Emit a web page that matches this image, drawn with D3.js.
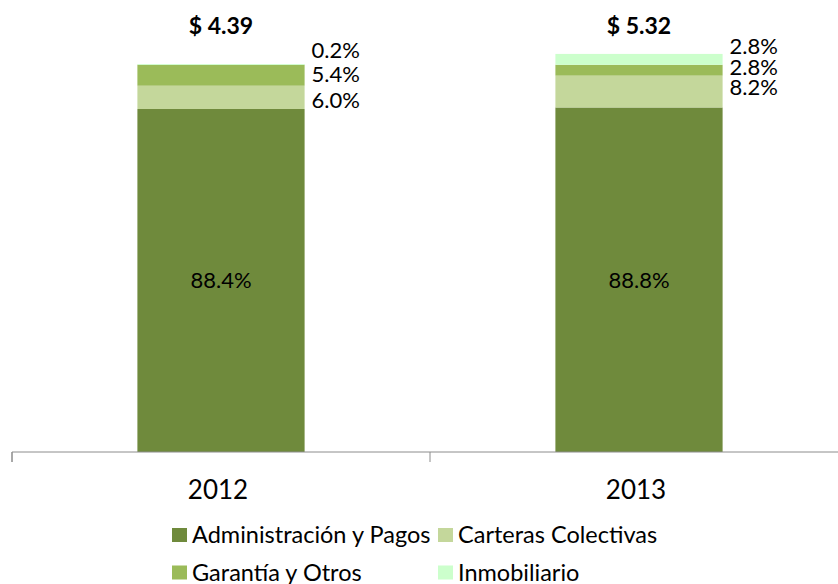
<!DOCTYPE html>
<html>
<head>
<meta charset="utf-8">
<script src="https://cdn.jsdelivr.net/npm/d3@7/dist/d3.min.js"></script>
<style>
  html, body { margin: 0; padding: 0; background: #ffffff; }
  svg { display: block; font-family: Lato, "Open Sans", sans-serif; }
</style>
</head>
<body>
<svg id="chart" width="838" height="584"></svg>
<script>
// ---- data ----
const years = ["2012", "2013"];
const totals = ["$ 4.39", "$ 5.32"];
const seriesNames = ["Administración y Pagos", "Carteras Colectivas", "Garantía y Otros", "Inmobiliario"];
const administracion = [88.4, 88.8];
const carteras = [6.0, 8.2];
const garantia = [5.4, 2.8];
const inmobiliario = [0.2, 2.8];
const colors = ["#6f8a3c", "#c4d79b", "#9bbb59", "#ccffcc"];

// ---- layout ----
const svg = d3.select("#chart");
const baseY = 452;
const x = d3.scaleBand().domain(years).range([12, 848]).paddingInner(0).paddingOuter(0);
const y = d3.scaleLinear().domain([0, 100]).range([baseY, 64]);
const barW = x.bandwidth() * 0.4;

const rows = years.map((yr, i) => ({
  year: yr, total: totals[i],
  [seriesNames[0]]: administracion[i],
  [seriesNames[1]]: carteras[i],
  [seriesNames[2]]: garantia[i],
  [seriesNames[3]]: inmobiliario[i]
}));
const stack = d3.stack().keys(seriesNames)(rows);

// label vertical nudges (px) for outside labels, per series index then year
const labelNudge = { 1: [3, -4], 2: [-1, -3], 3: [-14, -13] };

// bars
stack.forEach((layer, si) => {
  svg.append("g").selectAll("rect").data(layer).join("rect")
    .attr("x", d => x(d.data.year) + (x.bandwidth() - barW) / 2)
    .attr("width", barW)
    .attr("y", d => y(d[1]))
    .attr("height", d => y(d[0]) - y(d[1]))
    .attr("fill", colors[si]);
});

// axis
const axis = d3.axisBottom(x).tickSize(10).tickFormat("");
const ax = svg.append("g").attr("transform", `translate(0,${baseY})`).call(axis);
ax.select(".domain").attr("stroke", "#8c8c8c").attr("d", `M12,10V0H848V10`);
ax.selectAll(".tick").remove();
// tick marks at band boundaries
const bounds = years.map(yv => x(yv)).concat([x(years[years.length - 1]) + x.step()]);
ax.selectAll("line.bnd").data(bounds).join("line").attr("class", "bnd")
  .attr("x1", d => d).attr("x2", d => d).attr("y1", 0).attr("y2", 10)
  .attr("stroke", "#8c8c8c");

// category labels
svg.append("g").selectAll("text").data(years).join("text")
  .attr("x", d => x(d) + x.bandwidth() / 2 - 3)
  .attr("y", 499)
  .attr("text-anchor", "middle")
  .attr("font-size", 26)
  .attr("fill", "#000")
  .text(d => d);

// totals
svg.append("g").selectAll("text").data(rows).join("text")
  .attr("x", d => x(d.year) + x.bandwidth() / 2)
  .attr("y", 34)
  .attr("text-anchor", "middle")
  .attr("font-size", 23)
  .attr("font-weight", "bold")
  .attr("fill", "#000")
  .text(d => d.total);

// inside labels (first series)
svg.append("g").selectAll("text").data(stack[0]).join("text")
  .attr("x", d => x(d.data.year) + x.bandwidth() / 2)
  .attr("y", d => (y(d[0]) + y(d[1])) / 2)
  .attr("dy", "0.36em")
  .attr("text-anchor", "middle")
  .attr("font-size", 22)
  .attr("fill", "#000")
  .text(d => d3.format(".1f")(d[1] - d[0]) + "%");

// outside labels
stack.slice(1).forEach((layer, k) => {
  const si = k + 1;
  svg.append("g").selectAll("text").data(layer).join("text")
    .attr("x", d => x(d.data.year) + (x.bandwidth() + barW) / 2 + 7)
    .attr("y", (d, i) => (y(d[0]) + y(d[1])) / 2 + labelNudge[si][i])
    .attr("dy", "0.36em")
    .attr("text-anchor", "start")
    .attr("font-size", 22)
    .attr("fill", "#000")
    .text(d => d3.format(".1f")(d[1] - d[0]) + "%");
});

// legend
const legX = [172, 438];
const legY = [535, 572.5];
const leg = svg.append("g").selectAll("g").data(seriesNames).join("g")
  .attr("transform", (d, i) => `translate(${legX[i % 2]},${legY[Math.floor(i / 2)]})`);
leg.append("rect").attr("x", 0).attr("y", -7).attr("width", 15).attr("height", 14)
  .attr("fill", (d, i) => colors[i]);
leg.append("text").attr("x", 20).attr("y", 0).attr("dy", "0.36em")
  .attr("font-size", 23.5).attr("fill", "#000").text(d => d);
</script>
</body>
</html>
